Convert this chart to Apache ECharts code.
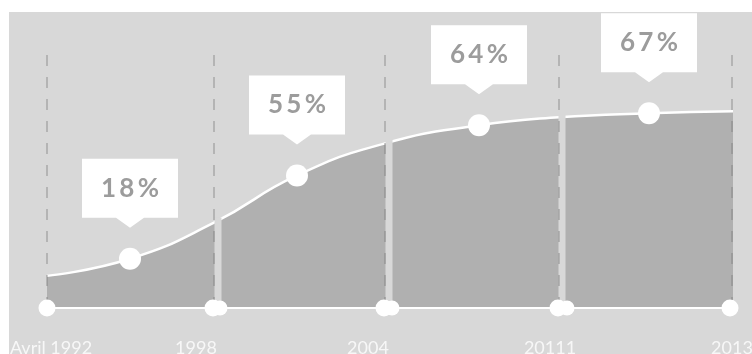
<!DOCTYPE html>
<html><head><meta charset="utf-8">
<script src="https://cdn.jsdelivr.net/npm/echarts@6/dist/echarts.min.js"></script>
<style>html,body{margin:0;padding:0;background:#fff}#c{width:752px;height:354px}</style>
</head><body><div id="c"></div>
<script>
// curve samples (x along the timeline, height above the axis)
const curveX = [0, 83, 167, 250, 338, 432, 512, 602, 686];
const curveY = [32, 49, 85, 132, 164, 182, 190, 194, 196];
// highlighted points
const pointX = [83, 250, 432, 602];
const pointY = [49, 132, 182, 194];
const pointLabels = ['18%', '55%', '64%', '67%'];
// axis ticks / labels
const tickX = [0, 166, 337, 511, 683];
const tickX2 = [173, 345, 520];
const gapX = [171, 342, 515];
const gapH = [90, 169, 194];
const dashX = [0, 167, 338, 512, 685];
const labelX = [4, 149, 321, 503, 685];
const tickLabels = ['Avril 1992', '1998', '2004', '20111', '2013'];

const BG = '#d8d8d8', AREA = '#b0b0b0';
const chart = echarts.init(document.getElementById('c'), null, {renderer: 'canvas'});
const zip = (a, b) => a.map((v, i) => [v, b[i]]);
const calloutPath = 'path://M0 0H96V59H62L48 69L34 59H0Z';

chart.setOption({
  animation: false,
  backgroundColor: '#ffffff',
  graphic: [{type: 'rect', z: -10, shape: {x: 9, y: 12, width: 760, height: 360}, style: {fill: BG}}],
  grid: {left: 47, right: 19, top: 50, bottom: 46},
  xAxis: {type: 'value', min: 0, max: 686, show: false},
  yAxis: {type: 'value', min: 0, max: 257, show: false},
  series: [
    {
      type: 'line', z: 2, data: zip(curveX, curveY), smooth: 0.5,
      symbol: 'none', lineStyle: {color: '#ffffff', width: 2.5},
      areaStyle: {color: AREA, opacity: 1}
    },
    {
      type: 'bar', z: 3, data: zip(gapX, gapH), barWidth: 7,
      itemStyle: {color: BG}, silent: true
    },
    {
      type: 'line', z: 4, data: [], symbol: 'none',
      markLine: {
        silent: true, symbol: 'none', label: {show: false}, z: 4,
        lineStyle: {color: 'rgba(120,120,120,0.5)', width: 1.5, type: [11, 11]},
        data: dashX.map(x => ({xAxis: x}))
      }
    },
    {
      type: 'line', z: 5, data: [[tickX[0], 0], [tickX[tickX.length - 1], 0]],
      symbol: 'none', lineStyle: {color: '#ffffff', width: 2}
    },
    {
      type: 'scatter', z: 5, data: tickX2.map(x => [x, 0]), symbolSize: 15,
      itemStyle: {color: '#ffffff', opacity: 1}, clip: false
    },
    {
      type: 'scatter', z: 6, data: tickX.map(x => [x, 0]), symbolSize: 17,
      itemStyle: {color: '#ffffff', opacity: 1}, clip: false
    },
    {
      type: 'scatter', z: 6, data: zip(pointX, pointY), symbolSize: 22,
      itemStyle: {color: '#ffffff', opacity: 1}, clip: false
    },
    {
      type: 'scatter', z: 7, clip: false,
      data: zip(pointX, pointY).map((p, i) => ({value: p, name: pointLabels[i]})),
      symbol: calloutPath, symbolSize: [96, 69], symbolOffset: [0, -65.5],
      itemStyle: {color: '#ffffff', opacity: 1},
      label: {
        show: true, position: 'inside', offset: [0, -5],
        formatter: p => p.name.split('').join('\u2009'),
        color: '#9c9c9c', fontSize: 26, fontWeight: 'bold', fontFamily: 'Lato'
      }
    },
    {
      type: 'scatter', z: 7, clip: false, symbolSize: 0,
      data: labelX.map((x, i) => ({value: [x, 0], name: tickLabels[i]})),
      label: {
        show: true, position: 'inside', offset: [0, 40], formatter: p => p.name,
        color: '#ffffff', fontSize: 18, fontWeight: 'normal', fontFamily: 'Lato'
      }
    }
  ]
});
</script></body></html>
